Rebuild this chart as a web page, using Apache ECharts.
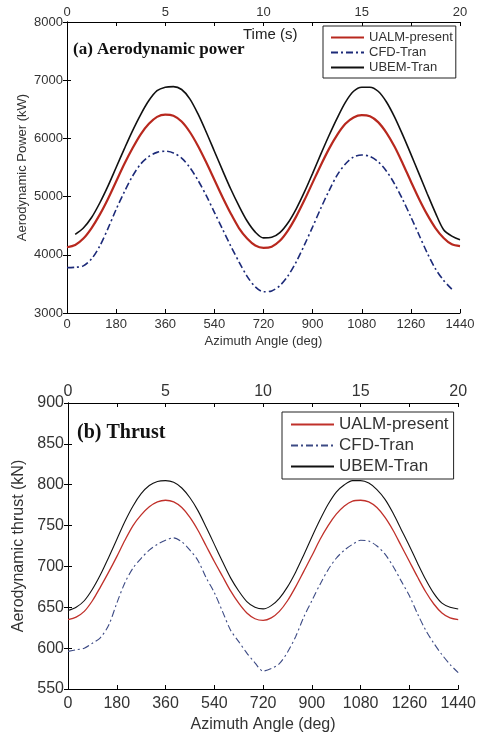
<!DOCTYPE html>
<html><head><meta charset="utf-8">
<script src="https://cdn.jsdelivr.net/npm/echarts@6/dist/echarts.min.js"></script>
<style>html,body{margin:0;padding:0;background:#fff;}#c1{position:absolute;left:0;top:0;width:479px;height:369px;}#c2{position:absolute;left:0;top:369px;width:479px;height:369px;}</style>
</head><body><div id="c1"></div><div id="c2"></div>
<script>
const angles = [0,30,60,90,120,150,180,210,240,270,300,330,360,390,420,450,480,510,540,570,600,630,660,690,720,750,780,810,840,870,900,930,960,990,1020,1050,1080,1110,1140,1170,1200,1230,1260,1290,1320,1350,1380,1410,1440];
const angleTicks = [0,180,360,540,720,900,1080,1260,1440];
const timeTicks = [0,5,10,15,20];
const seriesNames = ['UALM-present','CFD-Tran','UBEM-Tran'];

const powerUALM = [4130,4170,4280,4460,4690,4960,5260,5560,5830,6070,6250,6370,6410,6390,6290,6110,5870,5590,5290,4990,4710,4460,4280,4160,4120,4140,4240,4420,4660,4940,5240,5540,5820,6060,6250,6360,6400,6380,6280,6100,5860,5570,5260,4960,4690,4460,4290,4180,4150];
const powerCFD = [3780,3785,3810,3930,4150,4450,4780,5080,5350,5560,5690,5760,5780,5750,5660,5500,5280,5020,4730,4440,4150,3880,3630,3450,3365,3380,3470,3640,3880,4170,4480,4800,5100,5370,5560,5680,5715,5690,5600,5440,5220,4950,4650,4340,4030,3760,3560,3410,null];
const powerUBEM = [null,4350,4460,4640,4890,5180,5500,5820,6130,6410,6650,6820,6880,6890,6840,6680,6420,6110,5780,5450,5130,4840,4580,4390,4290,4300,4380,4550,4790,5080,5400,5730,6050,6350,6620,6810,6880,6880,6810,6630,6370,6060,5730,5390,5050,4720,4430,4320,4260];

const thrustUALM = [635,638,645,658,675,693,712,732,750,763,773,779,781,779,772,760,744,725,706,688,670,655,643,636,634,637,645,658,675,694,713,733,750,764,774,780,781,779,772,760,744,725,706,687,669,654,643,637,635];
const thrustCFD = [596,598,600,606,613,628,655,680,698,710,720,727,732,735,730,720,707,686,668,645,622,608,594,582,572,575,581,595,614,638,658,678,696,710,720,727,732,731,725,715,700,682,664,642,622,606,592,580,570];
const thrustUBEM = [646,650,658,672,690,711,733,755,774,789,799,804,805,803,796,784,768,748,727,706,686,670,657,650,648,652,661,675,693,714,736,757,776,791,800,805,805,802,794,782,765,745,725,704,684,667,655,650,648];

const pair = arr => angles.map((a,i)=>[a, arr[i]]);
const FONT = 'Liberation Sans';

function makeOption(cfg){
  const axisLine = {show:true, lineStyle:{color:'#000', width:1}};
  const tick = {show:true, inside:true, length:4, lineStyle:{color:'#000'}};
  const lbl = {color:'#333', fontFamily:FONT, fontSize:cfg.fs};
  return {
    animation:false,
    backgroundColor:'#fff',
    grid:{left:cfg.left, top:cfg.top, width:cfg.width, height:cfg.height, containLabel:false},
    legend:{
      orient:'vertical', left:cfg.legLeft, top:cfg.legTop,
      data:seriesNames, padding:cfg.legPad, itemGap:cfg.legGap,
      itemWidth:cfg.legIconW, itemHeight:cfg.legItemH,
      borderColor:'#222', borderWidth:1, backgroundColor:'#fff', borderRadius:0,
      itemStyle:{opacity:0},
      textStyle:{fontFamily:FONT, fontSize:cfg.legFs, color:'#333'},
      selectedMode:false
    },
    xAxis:[
      {type:'value', position:'bottom', min:0, max:1440, interval:180,
       axisLine, axisTick:tick, splitLine:{show:false},
       axisLabel:Object.assign({margin:cfg.xLblMargin, formatter:v=>angleTicks.includes(v)?String(v):''}, lbl),
       name:'Azimuth Angle (deg)', nameLocation:'middle', nameGap:cfg.xNameGap, nameMoveOverlap:false,
       nameTextStyle:{fontFamily:FONT, fontSize:cfg.fs, color:'#333'}},
      {type:'value', position:'top', min:0, max:20, interval:2.5,
       axisLine, axisTick:tick, splitLine:{show:false},
       axisLabel:Object.assign({margin:cfg.tLblMargin, formatter:v=>timeTicks.includes(v)?String(v):''}, lbl)}
    ],
    yAxis:[
      {type:'value', position:'left', min:cfg.ymin, max:cfg.ymax, interval:cfg.yint,
       axisLine, axisTick:tick, splitLine:{show:false},
       axisLabel:Object.assign({margin:4, formatter:v=>String(v)}, lbl),
       name:cfg.yName, nameLocation:'middle', nameGap:cfg.yNameGap, nameMoveOverlap:false,
       nameTextStyle:{fontFamily:FONT, fontSize:cfg.fs, color:'#333'}},
      {type:'value', position:'right', min:cfg.ymin, max:cfg.ymax, interval:cfg.yint,
       axisLine, axisTick:tick, splitLine:{show:false}, axisLabel:{show:false}}
    ],
    graphic: cfg.graphic,
    series:[
      {name:'UALM-present', type:'line', xAxisIndex:0, yAxisIndex:0, data:pair(cfg.d[0]), symbol:'none', smooth:0.3,
       lineStyle:{color:cfg.redC, width:cfg.redW}, itemStyle:{color:cfg.redC}, z:3},
      {name:'CFD-Tran', type:'line', xAxisIndex:0, yAxisIndex:0, data:pair(cfg.d[1]), symbol:'none', smooth:0.3,
       lineStyle:{color:cfg.blueC, width:cfg.blueW, type:[7,3,2,3]}, itemStyle:{color:cfg.blueC}, z:2},
      {name:'UBEM-Tran', type:'line', xAxisIndex:0, yAxisIndex:0, data:pair(cfg.d[2]), symbol:'none', smooth:0.3,
       lineStyle:{color:'#111', width:cfg.blackW}, itemStyle:{color:'#111'}, z:2}
    ]
  };
}

const c1 = echarts.init(document.getElementById('c1'), null, {renderer:'canvas'});
c1.setOption(makeOption({
  left:67, top:22, width:393, height:291, fs:13,
  xLblMargin:5, tLblMargin:3, xNameGap:22,
  ymin:3000, ymax:8000, yint:1000, yName:'Aerodynamic Power (kW)', yNameGap:38,
  legLeft:323, legTop:26, legPad:[5,3,4,7], legGap:2, legIconW:33, legItemH:14, legFs:13,
  redC:'#b8281e', redW:2.2, blueC:'#1c2a78', blueW:1.6, blackW:1.6,
  d:[powerUALM, powerCFD, powerUBEM],
  graphic:[
    {type:'text', left:73, top:41, style:{text:'(a) Aerodynamic power', fontFamily:'Liberation Serif', fontWeight:'bold', fontSize:17, fill:'#111'}},
    {type:'text', left:243, top:27, style:{text:'Time (s)', fontFamily:FONT, fontSize:15, fill:'#222'}}
  ]
}));

const c2 = echarts.init(document.getElementById('c2'), null, {renderer:'canvas'});
c2.setOption(makeOption({
  left:68, top:34, width:391, height:292, fs:16,
  xLblMargin:7, tLblMargin:3, xNameGap:28,
  ymin:550, ymax:900, yint:50, yName:'Aerodynamic thrust (kN)', yNameGap:41,
  legLeft:282, legTop:43, legPad:[4,5,4,8], legGap:4, legIconW:43, legItemH:17, legFs:17,
  redC:'#c0302a', redW:1.3, blueC:'#3c4a84', blueW:1.1, blackW:1.1,
  d:[thrustUALM, thrustCFD, thrustUBEM],
  graphic:[
    {type:'text', left:77, top:54, style:{text:'(b) Thrust', fontFamily:'Liberation Serif', fontWeight:'bold', fontSize:20, fill:'#111'}}
  ]
}));
</script>
</body></html>
